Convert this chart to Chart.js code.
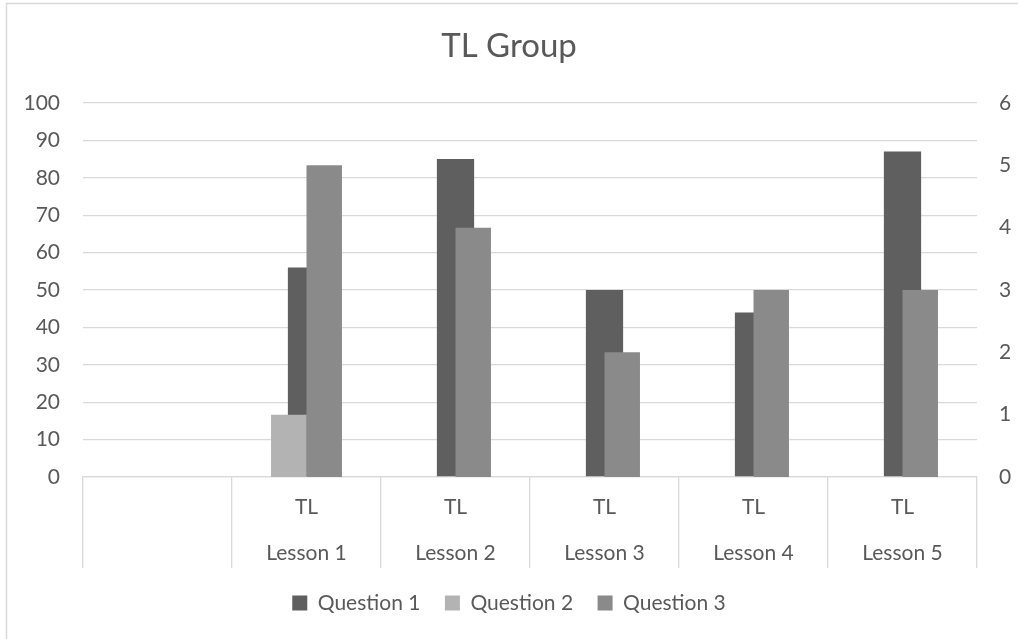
<!DOCTYPE html>
<html>
<head>
<meta charset="utf-8">
<script src="https://cdn.jsdelivr.net/npm/chart.js@4/dist/chart.umd.min.js"></script>
<style>
  html, body { margin: 0; padding: 0; background: #ffffff; }
  #wrap { position: relative; width: 1018px; height: 639px; }
</style>
</head>
<body>
<div id="wrap"><canvas id="chart" width="1018" height="639"></canvas></div>
<script>
// Categories: two label rows (group on top, lesson below); the first slot is empty
const lessons = ['', 'Lesson 1', 'Lesson 2', 'Lesson 3', 'Lesson 4', 'Lesson 5'];
const groups  = ['', 'TL', 'TL', 'TL', 'TL', 'TL'];

// Question 1 is plotted on the left (0-100) axis
const question1 = [null, 56, 85, 50, 44, 87];
// Questions 2 and 3 are plotted on the right (0-6) axis
const question2 = [null, 1, 0, 0, 0, 0];
const question3 = [null, 5, 4, 2, 3, 3];

const leftTicks  = { min: 0, max: 100, step: 10 };
const rightTicks = { min: 0, max: 6, step: 1 };

const TEXT = '#595959';
const GRID = '#d9d9d9';
const FONT = 'Lato';
const TICK_SIZE = 21;

// Light frame around the chart
const framePlugin = {
  id: 'frame',
  beforeDraw(chart) {
    const ctx = chart.ctx;
    ctx.save();
    ctx.fillStyle = '#ffffff';
    ctx.fillRect(0, 0, chart.width, chart.height);
    ctx.strokeStyle = GRID;
    ctx.lineWidth = 1.5;
    ctx.strokeRect(6.5, 3.5, chart.width + 20, chart.height + 20);
    ctx.restore();
  }
};

new Chart(document.getElementById('chart'), {
  type: 'bar',
  data: {
    labels: lessons.map((l, i) => [groups[i], l]),
    datasets: [
      {
        label: 'Question 1',
        data: question1,
        yAxisID: 'y',
        backgroundColor: '#5f5f5f',
        grouped: false,
        barPercentage: 0.3125,
        order: 1
      },
      {
        label: 'Question 2',
        data: question2,
        yAxisID: 'y1',
        backgroundColor: '#b3b3b3',
        categoryPercentage: 0.476,
        barPercentage: 1.0,
        order: 0
      },
      {
        label: 'Question 3',
        data: question3,
        yAxisID: 'y1',
        backgroundColor: '#8a8a8a',
        categoryPercentage: 0.476,
        barPercentage: 1.0,
        order: 0
      }
    ]
  },
  options: {
    responsive: false,
    animation: false,
    devicePixelRatio: 1,
    layout: { padding: { top: 0, left: 0, right: 0, bottom: 15.5 } },
    plugins: {
      title: {
        display: true,
        text: 'TL Group',
        color: TEXT,
        font: { family: FONT, size: 33, weight: 'normal' },
        padding: { top: 27, bottom: 36.4 }
      },
      legend: {
        position: 'bottom',
        labels: {
          color: TEXT,
          font: { family: FONT, size: TICK_SIZE },
          boxWidth: 15,
          boxHeight: 15,
          padding: 24.5,
          sort: (a, b) => a.datasetIndex - b.datasetIndex
        }
      },
      tooltip: { enabled: false }
    },
    scales: {
      x: {
        offset: true,
        grid: {
          offset: true,
          drawOnChartArea: false,
          drawTicks: true,
          tickLength: 91,
          color: GRID,
          lineWidth: 1.3
        },
        border: { display: true, color: GRID, width: 1.3 },
        ticks: {
          color: TEXT,
          font: { family: FONT, size: TICK_SIZE, lineHeight: 46 / TICK_SIZE },
          padding: -84,
          autoSkip: false,
          maxRotation: 0,
          minRotation: 0
        },
        afterFit(scale) { scale.height = 91; }
      },
      y: {
        position: 'left',
        min: leftTicks.min,
        max: leftTicks.max,
        ticks: {
          stepSize: leftTicks.step,
          color: TEXT,
          font: { family: FONT, size: TICK_SIZE },
          padding: 23
        },
        grid: { color: GRID, lineWidth: 1.3, drawTicks: false },
        border: { display: false },
        afterFit(scale) { scale.width = 83; }
      },
      y1: {
        position: 'right',
        min: rightTicks.min,
        max: rightTicks.max,
        ticks: {
          stepSize: rightTicks.step,
          color: TEXT,
          font: { family: FONT, size: TICK_SIZE },
          padding: 22
        },
        grid: { display: false, drawTicks: false },
        border: { display: false },
        afterFit(scale) { scale.width = 41; }
      }
    }
  },
  plugins: [framePlugin]
});
</script>
</body>
</html>
